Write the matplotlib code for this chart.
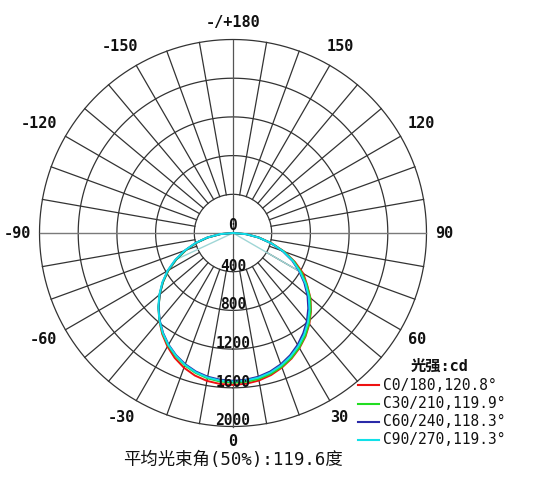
import numpy as np
import matplotlib
matplotlib.use("Agg")
import matplotlib.pyplot as plt

plt.rcParams['font.family'] = ['DejaVu Sans Mono', 'Noto Sans CJK SC']

# Gamma angles (deg), 0 = straight down, positive to the right
gamma = list(range(-90, 91, 5))

# Luminous intensity (cd) per C-plane, ordered from -90 to +90
c0_180 = [0, 130, 265, 395, 520, 648, 772, 885, 990, 1090, 1185, 1275, 1355, 1425, 1482, 1525, 1552, 1566,
          1570,
          1564, 1548, 1520, 1480, 1432, 1374, 1306, 1228, 1140, 1045, 935, 840, 705, 565, 415, 275, 140, 0]
c30_210 = [0, 128, 262, 392, 518, 645, 770, 882, 988, 1088, 1182, 1268, 1342, 1405, 1457, 1497, 1525, 1541,
           1547,
           1544, 1532, 1507, 1472, 1425, 1368, 1300, 1222, 1135, 1040, 930, 820, 695, 560, 412, 272, 138, 0]
c60_240 = [0, 132, 268, 400, 528, 655, 778, 888, 990, 1088, 1178, 1260, 1332, 1393, 1443, 1482, 1508, 1522,
           1527,
           1522, 1508, 1482, 1444, 1395, 1335, 1265, 1188, 1100, 1005, 900, 790, 675, 545, 405, 268, 135, 0]
c90_270 = [0, 135, 272, 405, 532, 660, 782, 892, 995, 1092, 1182, 1264, 1336, 1398, 1450, 1490, 1517, 1531,
           1535,
           1531, 1518, 1493, 1456, 1408, 1350, 1282, 1205, 1118, 1022, 915, 800, 682, 550, 408, 270, 136, 0]

series_labels = ["C0/180,120.8°", "C30/210,119.9°", "C60/240,118.3°", "C90/270,119.3°"]
series_colors = ["#ee1111", "#22dd22", "#2a2aa8", "#11e0e8"]

ring_values = [400, 800, 1200, 1600, 2000]
ring_labels = ["0", "400", "800", "1200", "1600", "2000"]
angle_ticks = [0, 30, 60, 90, 120, 150, 180, -150, -120, -90, -60, -30]
angle_labels = ["0", "30", "60", "90", "120", "150", "-/+180", "-150", "-120", "-90", "-60", "-30"]
chord_gammas = [-65, 60]

unit_label = "光强:cd"
beam_label = "平均光束角(50%):119.6度"


def to_xy(g_deg, r):
    g = np.radians(np.asarray(g_deg, dtype=float))
    r = np.asarray(r, dtype=float)
    return r * np.sin(g), -r * np.cos(g)


fig = plt.figure(figsize=(5.4, 4.95), dpi=100)
ax = fig.add_axes([0, 0, 1, 1])
cd_per_px = 2000 / 193.5
ax.set_xlim(-233 * cd_per_px, (540 - 233) * cd_per_px)
ax.set_ylim(-(495 - 233) * cd_per_px, 233 * cd_per_px)
ax.set_aspect('auto')
ax.axis('off')

grid_c = "#333333"
rmax = ring_values[-1]
txt_c = "#111111"

# rings
t = np.linspace(0, 360, 721)
for rv in ring_values:
    x, y = to_xy(t, np.full_like(t, rv))
    ax.plot(x, y, color=grid_c, lw=0.9, zorder=1)

# spokes every 10 degrees, starting at the inner ring
for a in range(0, 360, 10):
    if a % 90 == 0:
        continue
    x, y = to_xy([a, a], [ring_values[0], rmax])
    ax.plot(x, y, color=grid_c, lw=0.9, zorder=1)

# main axes through the centre
ax.plot([-rmax, rmax], [0, 0], color="#7a7a7a", lw=1.0, zorder=1)
ax.plot([0, 0], [-rmax, rmax], color="#555555", lw=0.9, zorder=1)

# intensity curves
all_series = [c0_180, c30_210, c60_240, c90_270]
for vals, col in zip(all_series, series_colors):
    x, y = to_xy(gamma, vals)
    ax.plot(x, y, color=col, lw=1.4, zorder=3)

# chord segments of the C90/270 plane
for cg in chord_gammas:
    idx = gamma.index(cg)
    x, y = to_xy([0, cg], [0, c90_270[idx]])
    ax.plot(x, y, color="#9fd6d6", lw=1.0, zorder=2)

# radial scale labels
ax.text(0, 75, ring_labels[0], ha='center', va='center', fontsize=10.5,
        fontweight='bold', color=txt_c, zorder=4)
for rv, lab in zip(ring_values, ring_labels[1:]):
    ax.text(0, -rv + 58, lab, ha='center', va='center', fontsize=10.5,
            fontweight='bold', color=txt_c, zorder=4)

# angle labels (radius in px from the centre, minus-sign labels nudged outward)
label_r_px = {0: 209, 30: 213, 60: 213, 90: 211, 120: 218, 150: 215, 180: 211}
for a, lab in zip(angle_ticks, angle_labels):
    rp = label_r_px[abs(a)]
    x, y = to_xy(a, rp * cd_per_px)
    if a < 0 and a != -180:
        x = x - 5 * cd_per_px
    ax.text(float(x), float(y), lab, ha='center', va='center', fontsize=11,
            fontweight='bold', color=txt_c)

# legend block
ax.text(207 * cd_per_px, -133 * cd_per_px, unit_label, ha='center', va='center',
        fontsize=11, fontweight='bold', color=txt_c)
row_px = [385, 403.5, 422, 440]
for lab, col, py in zip(series_labels, series_colors, row_px):
    yy = -(py - 233) * cd_per_px
    ax.plot([(358 - 233) * cd_per_px, (379 - 233) * cd_per_px], [yy, yy], color=col, lw=1.5)
    ax.text((383 - 233) * cd_per_px, yy, lab, ha='left', va='center', fontsize=10.5, color=txt_c)

# beam angle caption
ax.text(0, -(460 - 233) * cd_per_px, beam_label, ha='center', va='center',
        fontsize=12.5, color=txt_c)

fig.savefig("out.png", dpi=100, facecolor="white")
